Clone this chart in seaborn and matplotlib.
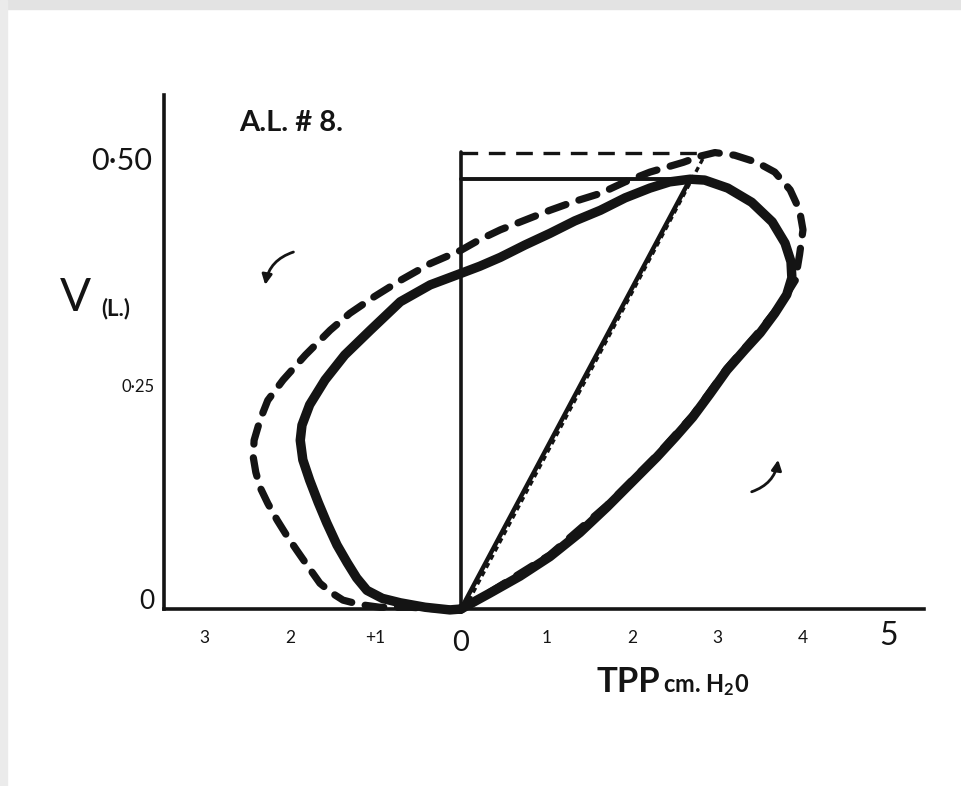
import matplotlib
matplotlib.use("Agg")
import matplotlib.pyplot as plt
import seaborn as sns
from matplotlib.patches import Rectangle
from matplotlib.transforms import ScaledTranslation

# Boucle pression-volume, trait continu (TPP en cm H2O, V en litres)
solid_tpp = [0, 0.34, 0.69, 1.04, 1.39, 1.71, 2.00, 2.29, 2.51, 2.71, 2.91, 3.11, 3.32, 3.50,
             3.67, 3.81, 3.87, 3.86, 3.79, 3.64, 3.40, 3.12, 2.85, 2.68,
             2.44, 2.21, 1.92, 1.63, 1.33, 1.04, 0.75, 0.46, 0.22, 0, -0.36, -0.71,
             -1.06, -1.36, -1.59, -1.77, -1.86, -1.88, -1.85, -1.77, -1.67, -1.57, -1.45,
             -1.33, -1.22, -1.10, -0.92, -0.71, -0.42, -0.13, 0]
solid_vol = [0, 0.018, 0.037, 0.059, 0.086, 0.115, 0.143, 0.171, 0.194, 0.216, 0.242, 0.269,
             0.292, 0.311, 0.333, 0.354, 0.373, 0.391, 0.412, 0.436, 0.458, 0.474, 0.483, 0.484,
             0.481, 0.474, 0.463, 0.449, 0.437, 0.423, 0.410, 0.396, 0.386, 0.378, 0.365, 0.346,
             0.314, 0.286, 0.258, 0.230, 0.207, 0.190, 0.168, 0.145, 0.120, 0.097, 0.072,
             0.052, 0.035, 0.021, 0.012, 0.007, 0.002, -0.001, 0]

# Boucle en tirets
dash_tpp = [0, 0.34, 1.04, 1.71, 2.29, 2.71, 3.11, 3.50, 3.73, 3.91, 3.96, 4.00, 3.96, 3.85,
            3.67, 3.46, 3.20, 2.97, 2.80, 2.60, 2.21, 1.92, 1.63, 1.33, 1.04, 0.75, 0.46, 0.22,
            0, -0.36, -0.71, -1.01, -1.30, -1.53, -1.82, -2.08, -2.26, -2.35, -2.42, -2.43,
            -2.40, -2.35, -2.26, -2.15, -2.04, -1.92, -1.79, -1.65, -1.51, -1.38, -1.18, -0.95,
            -0.60, -0.25, 0]
dash_vol = [0, 0.019, 0.061, 0.117, 0.173, 0.218, 0.271, 0.314, 0.342, 0.370, 0.399, 0.427,
            0.449, 0.472, 0.492, 0.503, 0.511, 0.514, 0.510, 0.503, 0.492, 0.481, 0.468, 0.459,
            0.449, 0.438, 0.427, 0.416, 0.404, 0.389, 0.370, 0.352, 0.333, 0.314, 0.286, 0.258,
            0.235, 0.213, 0.190, 0.171, 0.154, 0.137, 0.119, 0.100, 0.083, 0.066, 0.048, 0.029,
            0.018, 0.010, 0.005, 0.002, 0.002, 0.0, 0]

# Droites de compliance et repères
solid_chord_tpp = [0, 2.68]
solid_chord_vol = [0, 0.484]
dash_chord_tpp = [0.04, 2.84]
dash_chord_vol = [0, 0.509]
vmax_solid = 0.484
vmax_dash = 0.514
vertical_top = 0.515

x_ticks = [-3, -2, -1, 0, 1, 2, 3, 4, 5]
x_tick_labels = ["3", "2", "+1", "0", "1", "2", "3", "4", "5"]
x_tick_sizes = [12.5, 12.5, 12.5, 21, 12.5, 12.5, 12.5, 12.5, 23]
y_ticks = [0, 0.25, 0.50]
y_tick_labels = ["0", "0·25", "0·50"]
y_tick_sizes = [19, 12, 22]

sns.set_theme(style="white")
plt.rcParams["font.family"] = ["Lato", "DejaVu Sans"]
plt.rcParams["mathtext.default"] = "regular"
INK = "#141414"

fig = plt.figure(figsize=(9.62, 7.86), dpi=100)
ax = fig.add_axes([0, 0, 1, 1])
ax.set_xlim(-5.392, 5.860)
ax.set_ylim(-0.1993, 0.6858)

# bord gris du scan
fig.patches.append(Rectangle((0, 0.989), 1, 0.011, transform=fig.transFigure, color="#e3e3e3", zorder=0))
fig.patches.append(Rectangle((0, 0), 0.007, 1, transform=fig.transFigure, color="#ebebeb", zorder=0))

# repères internes
ax.plot([0, 0], [0, vertical_top], color=INK, lw=2.6, solid_capstyle="round")
ax.plot([0, solid_chord_tpp[1]], [vmax_solid, vmax_solid], color=INK, lw=2.8)
ax.plot([0, 2.97], [vmax_dash, vmax_dash], color=INK, lw=2.4, linestyle=(0, (5, 3.2)))

sns.lineplot(x=solid_chord_tpp, y=solid_chord_vol, sort=False, estimator=None, color=INK,
             lw=3.2, ax=ax)
sns.lineplot(x=dash_chord_tpp, y=dash_chord_vol, sort=False, estimator=None, color=INK,
             lw=2.4, linestyle=(0, (1.6, 1.2)), ax=ax)

sns.lineplot(x=solid_tpp, y=solid_vol, sort=False, estimator=None, color=INK, lw=6.8,
             solid_joinstyle="round", solid_capstyle="round", ax=ax)
sns.lineplot(x=dash_tpp, y=dash_vol, sort=False, estimator=None, color=INK, lw=5.2,
             linestyle=(0, (2.6, 1.9)), dash_capstyle="round", ax=ax)

# axes
for side in ["top", "right"]:
    ax.spines[side].set_visible(False)
ax.spines["left"].set_position(("data", -3.47))
ax.spines["left"].set_bounds(0, 0.579)
ax.spines["bottom"].set_position(("data", 0))
ax.spines["bottom"].set_bounds(-3.47, 5.41)
for side in ["left", "bottom"]:
    ax.spines[side].set_linewidth(2.6)
    ax.spines[side].set_color(INK)

ax.set_xticks(x_ticks, x_tick_labels)
ax.set_yticks(y_ticks, y_tick_labels)
ax.tick_params(axis="x", direction="out", length=4, width=1.8, color=INK, pad=11, labelcolor=INK)
ax.tick_params(axis="y", direction="out", length=3, width=1.8, color=INK, pad=1, labelcolor=INK)


def nudge(label, dx_px, dy_px):
    label.set_transform(label.get_transform() +
                        ScaledTranslation(dx_px / 100, dy_px / 100, fig.dpi_scale_trans))


for lab, size in zip(ax.get_xticklabels(), x_tick_sizes):
    lab.set_fontsize(size)
nudge(ax.get_xticklabels()[-1], 0, 9)
for lab, size in zip(ax.get_yticklabels(), y_tick_sizes):
    lab.set_fontsize(size)
ylabs = ax.get_yticklabels()
nudge(ylabs[0], -4, 10)
nudge(ylabs[1], -4, 2)
nudge(ylabs[2], -7, 6)

ax.set_ylabel("V", rotation=0, fontsize=33, color=INK, va="center")
ax.yaxis.set_label_coords(0.078, 0.621)
ax.text(-4.04, 0.338, "(L.)", fontsize=16, fontweight="bold", color=INK, ha="center", va="center")

ax.text(-1.99, 0.547, "A.L. # 8.", fontsize=21, fontweight="bold", color=INK,
        ha="center", va="center")
ax.text(1.59, -0.094, "TPP", fontsize=25, fontweight="bold", color=INK,
        ha="left", va="baseline")
ax.text(2.36, -0.094, "cm. H$_2$0", fontsize=17, fontweight="bold", color=INK,
        ha="left", va="baseline")

# flèches de sens de parcours
ax.annotate("", xy=(-2.29, 0.365), xytext=(-1.96, 0.402),
            arrowprops=dict(arrowstyle="-|>,head_length=0.5,head_width=0.25", color=INK, lw=2,
                            connectionstyle="arc3,rad=0.3", shrinkA=0, shrinkB=0))
ax.annotate("", xy=(3.71, 0.168), xytext=(3.40, 0.132),
            arrowprops=dict(arrowstyle="-|>,head_length=0.5,head_width=0.25", color=INK, lw=2,
                            connectionstyle="arc3,rad=0.3", shrinkA=0, shrinkB=0))

fig.savefig("out.png", dpi=100)
